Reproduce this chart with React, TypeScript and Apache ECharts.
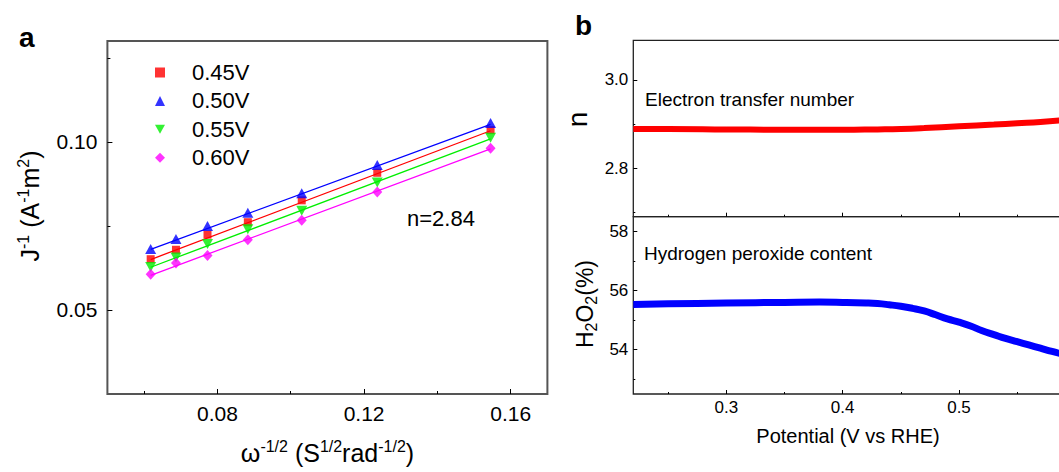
import React, { useEffect, useRef } from "react";
import * as echarts from "echarts";

const FONT = "'Liberation Sans', Arial, Helvetica, sans-serif";

// ---------- Panel a : Koutecky-Levich plot ----------
const omegaInvSqrt = [0.0618, 0.0687, 0.0773, 0.0883, 0.103, 0.1236, 0.1545];
const voltageNames = ["0.45V", "0.50V", "0.55V", "0.60V"];
const jInv045 = [0.0651, 0.0679, 0.0724, 0.0761, 0.0826, 0.0908, 0.1035];
const jInv050 = [0.0681, 0.0711, 0.075, 0.0789, 0.0847, 0.0931, 0.1056];
const jInv055 = [0.0628, 0.0656, 0.0696, 0.074, 0.0795, 0.0879, 0.1012];
const jInv060 = [0.0606, 0.064, 0.0662, 0.0709, 0.0767, 0.0851, 0.0981];
// fitted straight lines (end points)
const fitX = [0.0618, 0.1545];
const fit045 = [0.065, 0.1033];
const fit050 = [0.068, 0.1052];
const fit055 = [0.0627, 0.1009];
const fit060 = [0.0603, 0.0979];

const aXMajor = [0.08, 0.12, 0.16];
const aXMinor = [0.06, 0.1, 0.14];
const aYMajor = [0.05, 0.1];
const aYMinor = [0.075, 0.125];

// ---------- Panel b ----------
const potentialN = [0.22, 0.25, 0.3, 0.35, 0.4, 0.43, 0.45, 0.47, 0.5, 0.53, 0.55, 0.57, 0.59];
const nValues = [2.889, 2.889, 2.888, 2.887, 2.887, 2.888, 2.889, 2.891, 2.895, 2.899, 2.902, 2.905, 2.909];

const potentialH = [
  0.22, 0.25, 0.3, 0.35, 0.38, 0.4, 0.42, 0.43, 0.44, 0.45, 0.46, 0.47, 0.48, 0.49, 0.5, 0.51,
  0.52, 0.53, 0.54, 0.55, 0.56, 0.57, 0.58, 0.59,
];
const h2o2Values = [
  55.53, 55.55, 55.58, 55.6, 55.61, 55.6, 55.58, 55.56, 55.52, 55.47, 55.4, 55.31, 55.18, 55.04,
  54.93, 54.8, 54.64, 54.51, 54.38, 54.27, 54.16, 54.05, 53.94, 53.84,
];

const bXMajor = [0.3, 0.4, 0.5];
const bXMinor = [0.25, 0.35, 0.45, 0.55];
const nMajor = [2.8, 3.0];
const nMinor = [2.7, 2.9];
const hMajor = [54, 56, 58];
const hMinor = [53, 55, 57];

function zip(xs: number[], ys: number[]) {
  return xs.map((x, i) => [x, ys[i]]);
}

function axisPair(
  dim: "x" | "y",
  gridIndex: number,
  min: number,
  max: number,
  major: number[],
  minor: number[],
  o: { labels: boolean; fmt: (v: number) => string; fontSize: number; margin: number; majorLen: number; minorLen: number }
) {
  const position = dim === "x" ? "bottom" : "left";
  const base = {
    type: "value",
    gridIndex,
    min,
    max,
    position,
    axisLine: { show: false, onZero: false },
    splitLine: { show: false },
  };
  return [
    {
      ...base,
      axisTick: { show: true, inside: true, length: o.majorLen, customValues: major, lineStyle: { color: "#000", width: 1 } },
      axisLabel: {
        show: o.labels,
        customValues: major,
        formatter: (v: number) => o.fmt(v),
        fontSize: o.fontSize,
        fontFamily: FONT,
        color: "#000",
        margin: o.margin,
      },
    },
    {
      ...base,
      axisTick: { show: true, inside: true, length: o.minorLen, customValues: minor, lineStyle: { color: "#000", width: 1 } },
      axisLabel: { show: false },
    },
  ];
}

function txt(x: number, y: number, text: string, fontSize: number, extra: any = {}) {
  const { rotation, align, vAlign, rich, fontWeight } = extra;
  return {
    type: "text",
    x,
    y,
    rotation: rotation || 0,
    silent: true,
    style: {
      text,
      fontSize,
      fontFamily: FONT,
      fontWeight: fontWeight || "normal",
      fill: "#000",
      align: align || "left",
      textAlign: align || "left",
      verticalAlign: vAlign || "middle",
      textVerticalAlign: vAlign || "middle",
      rich,
    },
  };
}

export default function App() {
  const ref = useRef<HTMLDivElement>(null);

  useEffect(() => {
    if (!ref.current) return;
    const chart = echarts.init(ref.current, undefined, { renderer: "svg" });

    const aFmt = (v: number) => v.toFixed(2);
    const xAxes = [
      ...axisPair("x", 0, 0.05, 0.17, aXMajor, aXMinor, { labels: true, fmt: aFmt, fontSize: 21, margin: 9, majorLen: 5, minorLen: 3 }),
      ...axisPair("x", 1, 0.22, 0.6, bXMajor, bXMinor, { labels: false, fmt: (v) => v.toFixed(1), fontSize: 17, margin: 5, majorLen: 4, minorLen: 2 }),
      ...axisPair("x", 2, 0.22, 0.6, bXMajor, bXMinor, { labels: true, fmt: (v) => v.toFixed(1), fontSize: 17, margin: 5, majorLen: 4, minorLen: 2 }),
    ];
    const yAxes = [
      ...axisPair("y", 0, 0.025, 0.13, aYMajor, aYMinor, { labels: true, fmt: aFmt, fontSize: 21, margin: 10, majorLen: 5, minorLen: 3 }),
      ...axisPair("y", 1, 2.69, 3.09, nMajor, nMinor, { labels: true, fmt: (v) => v.toFixed(1), fontSize: 17, margin: 5, majorLen: 4, minorLen: 2 }),
      ...axisPair("y", 2, 52.5, 58.5, hMajor, hMinor, { labels: true, fmt: (v) => v.toFixed(0), fontSize: 17, margin: 5, majorLen: 4, minorLen: 2 }),
    ];

    const markerDefs = [
      { name: voltageNames[0], data: jInv045, fit: fit045, color: "#ff0000", symbol: "rect", size: [8, 8], rotate: 0 },
      { name: voltageNames[1], data: jInv050, fit: fit050, color: "#0000ff", symbol: "triangle", size: [11, 10], rotate: 0 },
      { name: voltageNames[2], data: jInv055, fit: fit055, color: "#00ee00", symbol: "triangle", size: [11, 10], rotate: 180 },
      { name: voltageNames[3], data: jInv060, fit: fit060, color: "#ff00ff", symbol: "diamond", size: [10, 11], rotate: 0 },
    ];

    const series: any[] = [];
    markerDefs.forEach((m) => {
      series.push({
        name: m.name + " fit",
        type: "line",
        xAxisIndex: 0,
        yAxisIndex: 0,
        data: zip(fitX, m.fit),
        showSymbol: false,
        symbol: "none",
        lineStyle: { color: m.color, width: 1.3 },
        z: 2,
      });
    });
    markerDefs.forEach((m) => {
      series.push({
        name: m.name,
        type: "scatter",
        xAxisIndex: 0,
        yAxisIndex: 0,
        data: zip(omegaInvSqrt, m.data),
        symbol: m.symbol,
        symbolSize: m.size,
        symbolRotate: m.rotate,
        itemStyle: { color: m.color },
        z: 3,
      });
    });
    series.push({
      name: "n",
      type: "line",
      xAxisIndex: 2,
      yAxisIndex: 2,
      data: zip(potentialN, nValues),
      showSymbol: false,
      symbol: "none",
      smooth: true,
      lineStyle: { color: "#ff0000", width: 6 },
    });
    series.push({
      name: "H2O2",
      type: "line",
      xAxisIndex: 4,
      yAxisIndex: 4,
      data: zip(potentialH, h2o2Values),
      showSymbol: false,
      symbol: "none",
      smooth: true,
      lineStyle: { color: "#0000ff", width: 7 },
    });

    const supA = { fontSize: 16, fontFamily: FONT, fill: "#000", padding: [0, 0, 13, 0] };
    const mainA = { fontSize: 25, fontFamily: FONT, fill: "#000" };
    const subB = { fontSize: 16, fontFamily: FONT, fill: "#000", padding: [12, 0, 0, 0] };
    const mainB = { fontSize: 23, fontFamily: FONT, fill: "#000" };

    const gridCommon = { show: true, backgroundColor: "transparent", containLabel: false, outerBoundsMode: "none" };

    chart.setOption({
      animation: false,
      backgroundColor: "#fff",
      grid: [
        { ...gridCommon, left: 107.4, top: 41, width: 440, height: 353, borderColor: "#555", borderWidth: 2 },
        { ...gridCommon, left: 633.3, top: 40.3, width: 442, height: 176.4, borderColor: "#222", borderWidth: 1.3 },
        { ...gridCommon, left: 633.3, top: 216.7, width: 442, height: 177.3, borderColor: "#222", borderWidth: 1.3 },
      ],
      xAxis: xAxes,
      yAxis: yAxes,
      legend: {
        orient: "vertical",
        left: 150,
        top: 56.5,
        itemWidth: 10,
        itemHeight: 10,
        itemGap: 6.4,
        selectedMode: false,
        textStyle: { fontSize: 22, fontFamily: FONT, color: "#000", padding: [0, 0, 0, 22] },
        data: [
          { name: voltageNames[0], icon: "rect" },
          { name: voltageNames[1], icon: "triangle" },
          { name: voltageNames[2], icon: "path://M0,0L10,0L5,9Z" },
          { name: voltageNames[3], icon: "diamond" },
        ],
      },
      graphic: [
        txt(19, 37, "a", 28, { fontWeight: "bold" }),
        txt(575, 25, "b", 28, { fontWeight: "bold" }),
        txt(327.5, 453, "{m|ω}{s|-1/2}{m| (S}{s|1/2}{m|rad}{s|-1/2}{m|)}", 25, {
          align: "center",
          rich: { m: mainA, s: supA },
        }),
        txt(30.4, 206, "{m|J}{s|-1}{m| (A}{s|-1}{m|m}{s|2}{m|)}", 25, {
          align: "center",
          rotation: Math.PI / 2,
          rich: { m: mainA, s: supA },
        }),
        txt(407, 218, "n=2.84", 22),
        txt(645, 99.5, "Electron transfer number", 19),
        txt(644, 253.5, "Hydrogen peroxide content", 19),
        txt(848, 436, "Potential (V vs RHE)", 20, { align: "center" }),
        txt(577, 119.5, "n", 28, { align: "center", rotation: Math.PI / 2 }),
        txt(585, 304, "{m|H}{b|2}{m|O}{b|2}{m|(%)}", 23, {
          align: "center",
          rotation: Math.PI / 2,
          rich: { m: mainB, b: subB },
        }),
      ],
      series,
    });

    return () => {
      chart.dispose();
    };
  }, []);

  return (
    <div
      ref={ref}
      style={{ position: "fixed", left: 0, top: 0, width: 1059, height: 472, background: "#fff" }}
    />
  );
}
